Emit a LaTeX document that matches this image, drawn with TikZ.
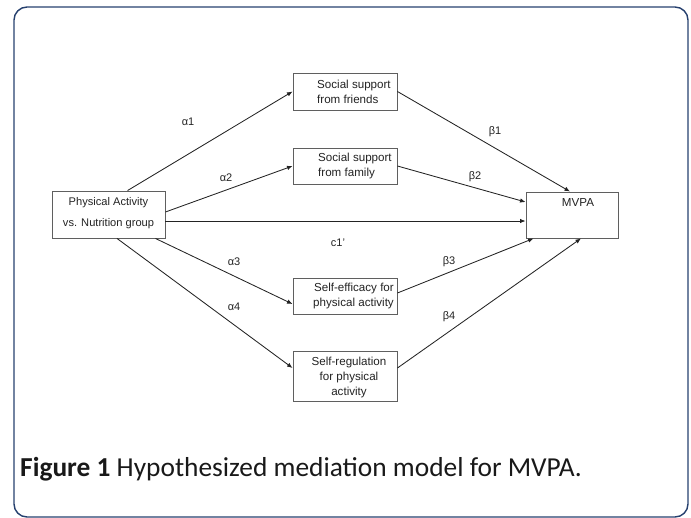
\documentclass[tikz,border=0pt]{standalone}
\usepackage{fontspec}
\setmainfont{Liberation Sans}
\newfontfamily\capfont{Carlito}
\usetikzlibrary{arrows.meta}
\definecolor{framecol}{RGB}{38,64,110}
\definecolor{boxgray}{RGB}{95,95,95}
\definecolor{linecol}{RGB}{35,35,35}
\definecolor{txtcol}{RGB}{35,35,35}
\begin{document}
\begin{tikzpicture}[x=1pt,y=-1pt,
  box/.style={draw=boxgray, line width=0.9pt, inner sep=0pt, fill=white},
  boxtext/.style={text=txtcol, inner sep=0pt, font=\fontsize{11.6}{15}\selectfont},
  lbl/.style={text=txtcol, inner sep=0pt, font=\fontsize{11}{12}\selectfont},
  conn/.style={draw=linecol, line width=0.85pt, -{Latex[length=5.5pt,width=4.5pt]}}
]
\useasboundingbox (0,0) rectangle (691,517);
\draw[framecol, line width=1.4pt, rounded corners=13pt] (14,7) rectangle (688,517);

% boxes
\node[box, minimum width=113pt, minimum height=47pt] (pa) at (108.5,214.5) {};
\node[box, minimum width=104pt, minimum height=37pt] (fr) at (345,91.5) {};
\node[box, minimum width=104pt, minimum height=36pt] (fa) at (345,166) {};
\node[box, minimum width=104pt, minimum height=36pt] (se) at (345,296) {};
\node[box, minimum width=104pt, minimum height=50pt] (sr) at (345,376) {};
\node[box, minimum width=92pt, minimum height=46pt] (mv) at (572,215) {};

% box texts
\node[boxtext, align=center, font=\fontsize{11.1}{21}\selectfont] (patx) at (108.5,213) {Physical Activity\\vs. Nutrition group};
\node[boxtext, align=left, anchor=west] (frtx) at (317,92) {Social support\\from friends};
\node[boxtext, align=left, anchor=west] (fatx) at (318,166) {Social support\\from family};
\node[boxtext, align=right, anchor=east] (setx) at (394,296) {Self-efficacy for\\physical activity};
\node[boxtext, align=center] (srtx) at (349,377) {Self-regulation\\for physical\\activity};
\node[boxtext] (mvtx) at (578,203) {MVPA};

% connectors
\draw[conn] ([xshift=76pt]pa.north west) -- (fr.west);
\draw[conn] ([yshift=2.5pt]pa.east) -- (fa.west);
\coordinate (cs) at ([yshift=-6.5pt]pa.east);
\draw[conn] (cs) -- (cs -| mv.west);
\draw[conn] ([xshift=-10pt]pa.south east) -- ([yshift=-8pt]se.west);
\draw[conn] ([xshift=8.5pt]pa.south) -- ([yshift=8pt]sr.west);
\draw[conn] (fr.east) -- ([xshift=-2pt]mv.north);
\draw[conn] (fa.east) -- ([yshift=13pt]mv.west);
\draw[conn] ([yshift=3pt]se.east) -- ([xshift=8pt]mv.south west);
\draw[conn] ([yshift=8pt]sr.east) -- ([xshift=9pt]mv.south);

% labels
\node[lbl] (la1) at (188,122) {α1};
\node[lbl] (la2) at (226,178) {α2};
\node[lbl] (lc1) at (338,243) {c1'};
\node[lbl] (la3) at (234,262) {α3};
\node[lbl] (la4) at (234,307) {α4};
\node[lbl] (lb1) at (495,132) {β1};
\node[lbl] (lb2) at (475,177) {β2};
\node[lbl] (lb3) at (449,262) {β3};
\node[lbl] (lb4) at (449,317) {β4};

% caption
\node[anchor=base west, inner sep=0pt, text=black!90, font=\capfont\fontsize{27.4}{32}\selectfont] (cap) at (20,476) {\textbf{Figure 1} Hypothesized mediation model for MVPA.};
\end{tikzpicture}
\end{document}
